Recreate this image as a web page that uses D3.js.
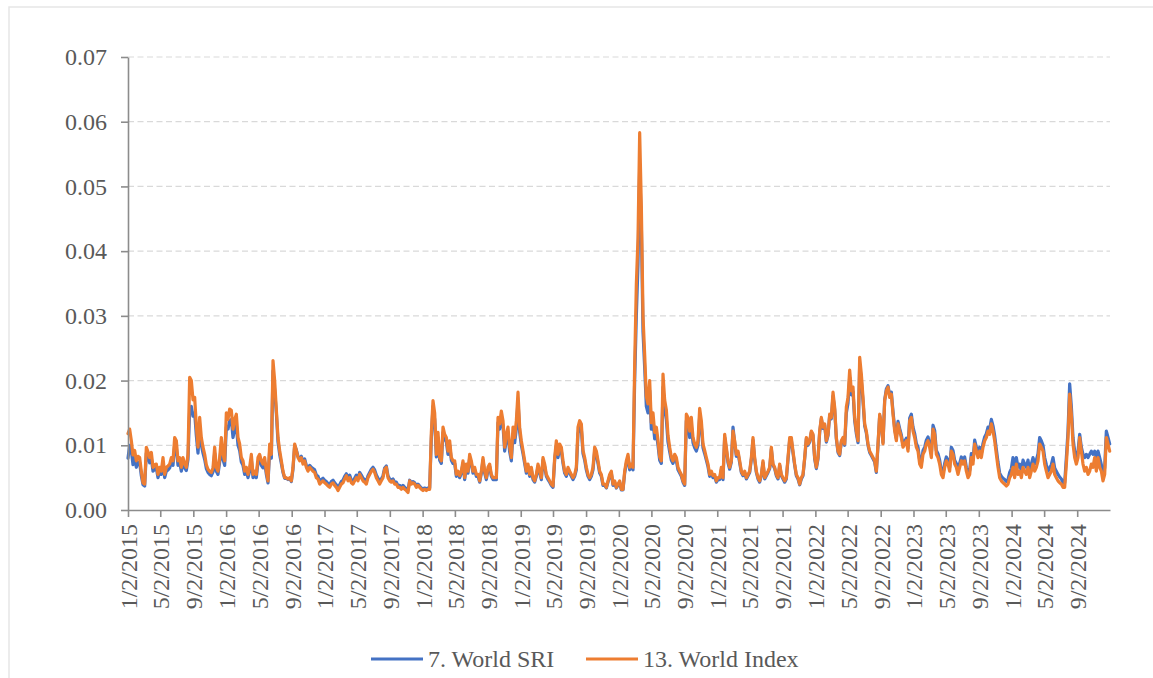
<!DOCTYPE html>
<html>
<head>
<meta charset="utf-8">
<script src="https://cdn.jsdelivr.net/npm/d3@7"></script>
<style>
  html, body { margin: 0; padding: 0; background: #fff; }
  svg { display: block; font-family: "Liberation Serif", "Times New Roman", serif; }
</style>
</head>
<body>
<svg id="chart" width="1153" height="678"></svg>
<script>
// Legend entries and colours
const seriesNames = ["7. World SRI", "13. World Index"];
const seriesColors = ["#4472C4", "#ED7D31"];

// Time span of the axis and spacing of the samples (days)
const axisStart = Date.UTC(2015, 0, 2);
const axisEnd = Date.UTC(2025, 0, 2);
const sampleStepDays = 6.2;

// Axis ticks
const yTicks = [0, 0.01, 0.02, 0.03, 0.04, 0.05, 0.06, 0.07];
const tickYears = [2015, 2016, 2017, 2018, 2019, 2020, 2021, 2022, 2023, 2024];
const tickMonths = [0, 4, 8]; // January, May, September (day 2)

// 13. World Index volatility
const worldIndex = [
  0.0118,0.0125,0.0107,0.0085,0.0092,0.0076,0.0083,0.0081,0.0060,0.0042,
  0.0040,0.0097,0.0090,0.0081,0.0089,0.0066,0.0070,0.0071,0.0055,0.0066,
  0.0060,0.0081,0.0055,0.0066,0.0068,0.0071,0.0081,0.0076,0.0112,0.0107,
  0.0076,0.0081,0.0066,0.0081,0.0071,0.0066,0.0086,0.0205,0.0200,0.0170,
  0.0174,0.0130,0.0097,0.0143,0.0112,0.0097,0.0086,0.0070,0.0063,0.0060,
  0.0058,0.0065,0.0097,0.0066,0.0060,0.0081,0.0112,0.0086,0.0076,0.0150,
  0.0140,0.0156,0.0154,0.0125,0.0140,0.0148,0.0112,0.0102,0.0081,0.0076,
  0.0060,0.0066,0.0055,0.0066,0.0086,0.0055,0.0060,0.0055,0.0081,0.0086,
  0.0076,0.0071,0.0081,0.0060,0.0045,0.0102,0.0086,0.0231,0.0200,0.0155,
  0.0112,0.0092,0.0076,0.0060,0.0050,0.0050,0.0048,0.0050,0.0045,0.0066,
  0.0102,0.0092,0.0081,0.0076,0.0081,0.0071,0.0076,0.0066,0.0060,0.0066,
  0.0063,0.0060,0.0058,0.0050,0.0048,0.0040,0.0043,0.0045,0.0042,0.0040,
  0.0037,0.0035,0.0040,0.0042,0.0038,0.0035,0.0030,0.0035,0.0040,0.0042,
  0.0048,0.0053,0.0045,0.0050,0.0042,0.0040,0.0045,0.0050,0.0045,0.0055,
  0.0050,0.0045,0.0043,0.0040,0.0050,0.0055,0.0060,0.0063,0.0058,0.0050,
  0.0045,0.0040,0.0045,0.0050,0.0063,0.0066,0.0050,0.0045,0.0043,0.0045,
  0.0040,0.0040,0.0035,0.0035,0.0032,0.0035,0.0032,0.0030,0.0027,0.0045,
  0.0040,0.0042,0.0040,0.0035,0.0038,0.0035,0.0032,0.0030,0.0032,0.0030,
  0.0032,0.0032,0.0120,0.0169,0.0150,0.0086,0.0120,0.0081,0.0076,0.0128,
  0.0117,0.0112,0.0091,0.0107,0.0081,0.0076,0.0076,0.0055,0.0060,0.0053,
  0.0060,0.0076,0.0050,0.0071,0.0060,0.0086,0.0076,0.0060,0.0066,0.0055,
  0.0055,0.0045,0.0060,0.0081,0.0060,0.0050,0.0066,0.0071,0.0055,0.0050,
  0.0050,0.0050,0.0143,0.0133,0.0153,0.0138,0.0097,0.0117,0.0128,0.0097,
  0.0081,0.0128,0.0112,0.0138,0.0182,0.0128,0.0107,0.0092,0.0076,0.0060,
  0.0071,0.0055,0.0066,0.0050,0.0045,0.0055,0.0071,0.0060,0.0050,0.0081,
  0.0071,0.0055,0.0050,0.0045,0.0040,0.0037,0.0081,0.0107,0.0086,0.0102,
  0.0097,0.0076,0.0060,0.0055,0.0066,0.0060,0.0055,0.0050,0.0055,0.0066,
  0.0128,0.0138,0.0133,0.0092,0.0081,0.0066,0.0055,0.0050,0.0055,0.0066,
  0.0097,0.0091,0.0076,0.0060,0.0055,0.0040,0.0040,0.0035,0.0045,0.0055,
  0.0060,0.0040,0.0045,0.0035,0.0040,0.0045,0.0032,0.0032,0.0060,0.0076,
  0.0086,0.0066,0.0071,0.0066,0.0225,0.0349,0.0420,0.0583,0.0470,0.0300,
  0.0240,0.0175,0.0164,0.0200,0.0135,0.0150,0.0120,0.0128,0.0108,0.0082,
  0.0076,0.0210,0.0170,0.0155,0.0115,0.0097,0.0082,0.0076,0.0086,0.0081,
  0.0066,0.0060,0.0055,0.0045,0.0040,0.0148,0.0143,0.0122,0.0143,0.0112,
  0.0102,0.0097,0.0107,0.0157,0.0138,0.0102,0.0092,0.0081,0.0071,0.0055,
  0.0060,0.0053,0.0055,0.0045,0.0050,0.0050,0.0066,0.0050,0.0117,0.0097,
  0.0076,0.0066,0.0076,0.0122,0.0107,0.0086,0.0091,0.0076,0.0060,0.0055,
  0.0060,0.0050,0.0055,0.0060,0.0081,0.0112,0.0081,0.0060,0.0050,0.0045,
  0.0055,0.0076,0.0050,0.0055,0.0060,0.0066,0.0097,0.0071,0.0066,0.0055,
  0.0050,0.0071,0.0055,0.0050,0.0045,0.0050,0.0081,0.0112,0.0112,0.0091,
  0.0071,0.0055,0.0050,0.0040,0.0050,0.0055,0.0081,0.0112,0.0102,0.0107,
  0.0122,0.0117,0.0081,0.0066,0.0081,0.0122,0.0143,0.0128,0.0133,0.0107,
  0.0117,0.0148,0.0143,0.0182,0.0159,0.0112,0.0091,0.0086,0.0107,0.0112,
  0.0102,0.0159,0.0174,0.0216,0.0184,0.0190,0.0143,0.0122,0.0107,0.0236,
  0.0210,0.0174,0.0133,0.0122,0.0102,0.0091,0.0086,0.0081,0.0076,0.0060,
  0.0102,0.0148,0.0133,0.0102,0.0169,0.0184,0.0190,0.0174,0.0179,0.0148,
  0.0122,0.0107,0.0133,0.0122,0.0112,0.0097,0.0102,0.0107,0.0091,0.0138,
  0.0143,0.0122,0.0112,0.0097,0.0091,0.0071,0.0066,0.0086,0.0091,0.0102,
  0.0107,0.0097,0.0081,0.0125,0.0117,0.0086,0.0081,0.0071,0.0055,0.0050,
  0.0066,0.0076,0.0071,0.0060,0.0091,0.0086,0.0071,0.0066,0.0055,0.0066,
  0.0076,0.0071,0.0076,0.0060,0.0050,0.0055,0.0081,0.0071,0.0102,0.0091,
  0.0081,0.0091,0.0081,0.0097,0.0107,0.0112,0.0122,0.0117,0.0133,0.0122,
  0.0107,0.0086,0.0066,0.0050,0.0045,0.0042,0.0040,0.0037,0.0040,0.0050,
  0.0055,0.0066,0.0050,0.0071,0.0055,0.0060,0.0050,0.0066,0.0060,0.0055,
  0.0066,0.0050,0.0060,0.0071,0.0060,0.0066,0.0076,0.0102,0.0097,0.0091,
  0.0071,0.0060,0.0050,0.0055,0.0060,0.0071,0.0055,0.0050,0.0045,0.0042,
  0.0040,0.0035,0.0035,0.0071,0.0112,0.0179,0.0148,0.0102,0.0081,0.0071,
  0.0081,0.0112,0.0091,0.0071,0.0060,0.0066,0.0055,0.0060,0.0071,0.0066,
  0.0081,0.0060,0.0081,0.0066,0.0060,0.0045,0.0055,0.0112,0.0102,0.0091
];

// 7. World SRI volatility
const worldSri = [
  0.0080,0.0100,0.0092,0.0070,0.0082,0.0066,0.0074,0.0073,0.0053,0.0039,
  0.0037,0.0088,0.0082,0.0073,0.0080,0.0060,0.0063,0.0065,0.0050,0.0060,
  0.0055,0.0074,0.0050,0.0060,0.0062,0.0065,0.0074,0.0069,0.0100,0.0096,
  0.0069,0.0074,0.0060,0.0074,0.0065,0.0061,0.0078,0.0155,0.0160,0.0145,
  0.0150,0.0115,0.0088,0.0125,0.0100,0.0088,0.0078,0.0064,0.0058,0.0055,
  0.0053,0.0059,0.0088,0.0060,0.0055,0.0074,0.0100,0.0078,0.0069,0.0128,
  0.0125,0.0138,0.0140,0.0112,0.0125,0.0132,0.0100,0.0092,0.0074,0.0069,
  0.0055,0.0060,0.0050,0.0060,0.0078,0.0050,0.0055,0.0050,0.0074,0.0078,
  0.0069,0.0065,0.0074,0.0055,0.0042,0.0092,0.0080,0.0215,0.0185,0.0150,
  0.0105,0.0086,0.0072,0.0058,0.0049,0.0049,0.0047,0.0049,0.0044,0.0063,
  0.0100,0.0093,0.0083,0.0079,0.0083,0.0074,0.0079,0.0069,0.0063,0.0069,
  0.0066,0.0064,0.0062,0.0054,0.0052,0.0044,0.0047,0.0049,0.0046,0.0044,
  0.0041,0.0039,0.0044,0.0046,0.0042,0.0039,0.0034,0.0039,0.0044,0.0046,
  0.0052,0.0056,0.0049,0.0054,0.0046,0.0044,0.0049,0.0054,0.0049,0.0058,
  0.0054,0.0049,0.0047,0.0044,0.0053,0.0058,0.0063,0.0066,0.0062,0.0054,
  0.0049,0.0044,0.0048,0.0053,0.0065,0.0068,0.0053,0.0048,0.0046,0.0048,
  0.0043,0.0043,0.0038,0.0038,0.0035,0.0038,0.0035,0.0033,0.0030,0.0046,
  0.0042,0.0044,0.0042,0.0037,0.0040,0.0037,0.0034,0.0033,0.0034,0.0033,
  0.0034,0.0034,0.0110,0.0160,0.0140,0.0082,0.0112,0.0077,0.0072,0.0120,
  0.0110,0.0105,0.0086,0.0100,0.0077,0.0072,0.0072,0.0052,0.0057,0.0050,
  0.0057,0.0072,0.0047,0.0067,0.0057,0.0081,0.0072,0.0057,0.0062,0.0052,
  0.0052,0.0043,0.0057,0.0077,0.0057,0.0047,0.0062,0.0067,0.0052,0.0047,
  0.0047,0.0047,0.0135,0.0125,0.0142,0.0130,0.0091,0.0108,0.0118,0.0090,
  0.0076,0.0118,0.0104,0.0126,0.0168,0.0120,0.0100,0.0087,0.0072,0.0057,
  0.0067,0.0052,0.0062,0.0047,0.0043,0.0052,0.0067,0.0057,0.0047,0.0077,
  0.0067,0.0052,0.0047,0.0043,0.0038,0.0035,0.0077,0.0100,0.0081,0.0096,
  0.0091,0.0072,0.0057,0.0052,0.0062,0.0057,0.0052,0.0047,0.0052,0.0062,
  0.0118,0.0128,0.0125,0.0087,0.0077,0.0062,0.0052,0.0047,0.0052,0.0062,
  0.0091,0.0086,0.0072,0.0057,0.0052,0.0038,0.0038,0.0034,0.0043,0.0052,
  0.0057,0.0038,0.0043,0.0034,0.0038,0.0043,0.0031,0.0031,0.0057,0.0072,
  0.0081,0.0062,0.0067,0.0062,0.0200,0.0300,0.0380,0.0530,0.0440,0.0275,
  0.0220,0.0160,0.0150,0.0185,0.0125,0.0138,0.0110,0.0118,0.0100,0.0077,
  0.0072,0.0190,0.0155,0.0140,0.0105,0.0090,0.0077,0.0072,0.0081,0.0076,
  0.0062,0.0057,0.0052,0.0043,0.0038,0.0138,0.0130,0.0112,0.0130,0.0104,
  0.0096,0.0091,0.0100,0.0145,0.0128,0.0096,0.0087,0.0077,0.0067,0.0052,
  0.0057,0.0050,0.0052,0.0043,0.0047,0.0047,0.0062,0.0047,0.0112,0.0093,
  0.0073,0.0063,0.0074,0.0128,0.0104,0.0083,0.0088,0.0073,0.0058,0.0053,
  0.0058,0.0048,0.0053,0.0058,0.0078,0.0108,0.0078,0.0058,0.0048,0.0043,
  0.0053,0.0073,0.0048,0.0053,0.0058,0.0064,0.0094,0.0069,0.0064,0.0053,
  0.0048,0.0069,0.0053,0.0048,0.0043,0.0048,0.0078,0.0108,0.0108,0.0088,
  0.0069,0.0053,0.0048,0.0039,0.0048,0.0053,0.0079,0.0110,0.0100,0.0105,
  0.0120,0.0115,0.0079,0.0064,0.0079,0.0120,0.0141,0.0126,0.0131,0.0105,
  0.0115,0.0146,0.0141,0.0176,0.0155,0.0110,0.0089,0.0084,0.0105,0.0110,
  0.0100,0.0150,0.0165,0.0205,0.0178,0.0183,0.0138,0.0118,0.0104,0.0225,
  0.0200,0.0168,0.0130,0.0119,0.0100,0.0089,0.0084,0.0079,0.0074,0.0058,
  0.0100,0.0146,0.0133,0.0104,0.0170,0.0187,0.0192,0.0178,0.0182,0.0152,
  0.0126,0.0111,0.0137,0.0126,0.0116,0.0101,0.0106,0.0111,0.0095,0.0142,
  0.0148,0.0128,0.0118,0.0103,0.0097,0.0077,0.0072,0.0092,0.0097,0.0108,
  0.0113,0.0103,0.0087,0.0131,0.0123,0.0092,0.0087,0.0077,0.0061,0.0056,
  0.0072,0.0082,0.0077,0.0066,0.0097,0.0092,0.0077,0.0072,0.0061,0.0072,
  0.0082,0.0077,0.0082,0.0066,0.0056,0.0061,0.0087,0.0077,0.0108,0.0097,
  0.0087,0.0097,0.0087,0.0103,0.0113,0.0118,0.0128,0.0125,0.0140,0.0130,
  0.0115,0.0094,0.0074,0.0057,0.0052,0.0049,0.0047,0.0044,0.0047,0.0058,
  0.0064,0.0081,0.0060,0.0081,0.0066,0.0071,0.0060,0.0077,0.0071,0.0066,
  0.0077,0.0060,0.0071,0.0081,0.0071,0.0077,0.0087,0.0112,0.0107,0.0100,
  0.0081,0.0070,0.0060,0.0065,0.0070,0.0081,0.0065,0.0060,0.0055,0.0051,
  0.0048,0.0042,0.0042,0.0081,0.0122,0.0195,0.0160,0.0112,0.0091,0.0081,
  0.0091,0.0117,0.0097,0.0086,0.0081,0.0086,0.0081,0.0086,0.0091,0.0086,
  0.0091,0.0081,0.0091,0.0081,0.0070,0.0055,0.0065,0.0122,0.0112,0.0102
];

// ---- layout ----
const W = 1153, H = 678;
const plot = { left: 128, right: 1110, top: 57, bottom: 510 };
const textColor = "#595959";
const axisColor = "#8c8c8c";
const gridColor = "#d9d9d9";
const fontFamily = '"Liberation Serif", "Times New Roman", Times, serif';
const fontSize = 24;

const svg = d3.select("#chart");

// outer chart frame
svg.append("rect")
  .attr("x", 9).attr("y", 7)
  .attr("width", W + 20).attr("height", H + 20)
  .attr("fill", "#fff")
  .attr("stroke", "#e6e6e6")
  .attr("stroke-width", 1.5);

const sampleDates = worldIndex.map((_, i) => new Date(axisStart + i * sampleStepDays * 86400000));

const x = d3.scaleUtc()
  .domain([new Date(axisStart), new Date(axisEnd)])
  .range([plot.left, plot.right]);

const y = d3.scaleLinear()
  .domain([0, 0.07])
  .range([plot.bottom, plot.top]);

// horizontal dashed gridlines
svg.append("g")
  .selectAll("line")
  .data(yTicks.filter(d => d > 0))
  .join("line")
  .attr("x1", plot.left).attr("x2", plot.right)
  .attr("y1", d => y(d)).attr("y2", d => y(d))
  .attr("stroke", gridColor)
  .attr("stroke-width", 1.2)
  .attr("stroke-dasharray", "6,3.5");

// series lines (SRI first so the index line sits on top)
const series = [
  { name: seriesNames[0], color: seriesColors[0], values: worldSri },
  { name: seriesNames[1], color: seriesColors[1], values: worldIndex }
];

const line = d3.line()
  .x((d, i) => x(sampleDates[i]))
  .y(d => y(d));

svg.append("g")
  .selectAll("path")
  .data(series)
  .join("path")
  .attr("d", d => line(d.values))
  .attr("fill", "none")
  .attr("stroke", d => d.color)
  .attr("stroke-width", 3.2)
  .attr("stroke-linejoin", "round")
  .attr("stroke-linecap", "round");

// y axis
const yAxis = svg.append("g")
  .attr("transform", `translate(${plot.left},0)`)
  .call(d3.axisLeft(y)
    .tickValues(yTicks)
    .tickFormat(d3.format(".2f"))
    .tickSize(7)
    .tickSizeOuter(0)
    .tickPadding(14));

// x axis
const tickDates = tickYears.flatMap(yr => tickMonths.map(m => new Date(Date.UTC(yr, m, 2))));
const fmt = d3.utcFormat("%-m/%-d/%Y");

const xAxis = svg.append("g")
  .attr("transform", `translate(0,${plot.bottom})`)
  .call(d3.axisBottom(x)
    .tickValues(tickDates)
    .tickFormat(fmt)
    .tickSize(7)
    .tickSizeOuter(0));

xAxis.selectAll(".tick text")
  .attr("transform", "rotate(-90)")
  .attr("text-anchor", "end")
  .attr("x", -14)
  .attr("y", 0)
  .attr("dy", "0.35em");

[yAxis, xAxis].forEach(g => {
  g.attr("font-family", fontFamily).attr("font-size", fontSize);
  g.select(".domain").attr("stroke", axisColor).attr("stroke-width", 1.6);
  g.selectAll(".tick line").attr("stroke", axisColor).attr("stroke-width", 1.6);
  g.selectAll(".tick text").attr("fill", textColor);
});

// legend
const legendItems = [
  { name: seriesNames[0], color: seriesColors[0], x0: 371 },
  { name: seriesNames[1], color: seriesColors[1], x0: 586 }
];
const legend = svg.append("g")
  .attr("font-family", fontFamily)
  .attr("font-size", fontSize);
legendItems.forEach(item => {
  legend.append("line")
    .attr("x1", item.x0).attr("x2", item.x0 + 52)
    .attr("y1", 659).attr("y2", 659)
    .attr("stroke", item.color)
    .attr("stroke-width", 3);
  legend.append("text")
    .attr("x", item.x0 + 57)
    .attr("y", 667)
    .attr("fill", textColor)
    .text(item.name);
});
</script>
</body>
</html>
